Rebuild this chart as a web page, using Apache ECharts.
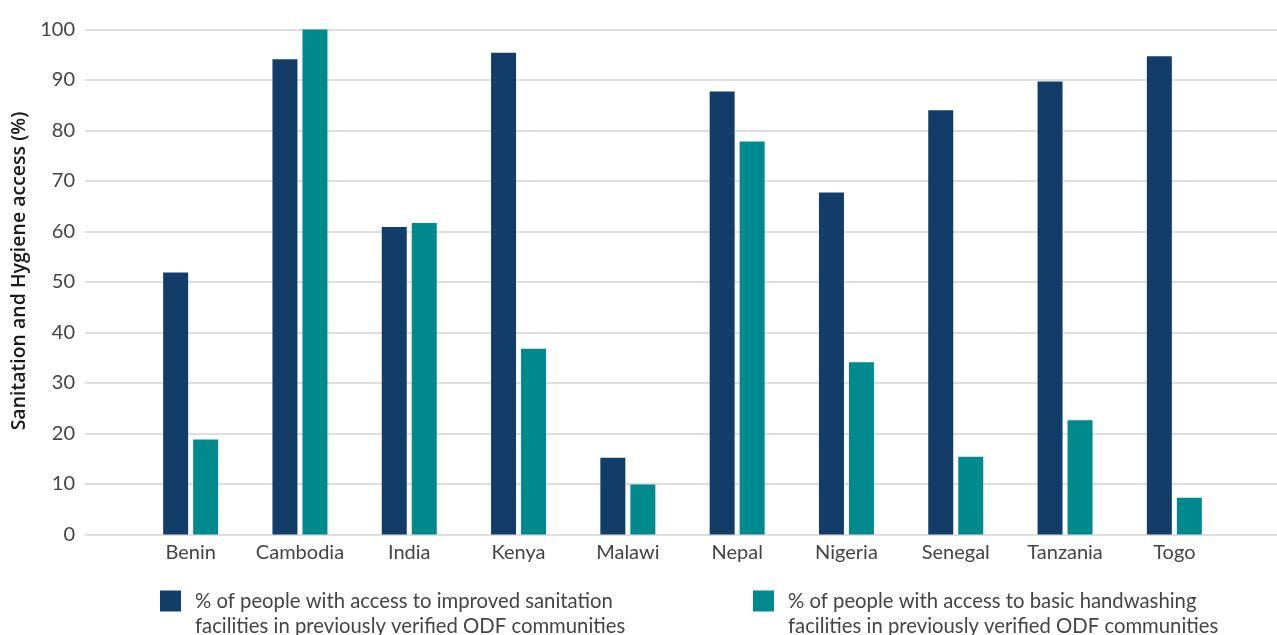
<!DOCTYPE html>
<html><head><meta charset="utf-8">
<script src="https://cdn.jsdelivr.net/npm/echarts@6/dist/echarts.min.js"></script>
<style>html,body{margin:0;padding:0;background:#fff}#c{width:1277px;height:635px}</style>
</head><body><div id="c"></div>
<script>
const categories = ['Benin','Cambodia','India','Kenya','Malawi','Nepal','Nigeria','Senegal','Tanzania','Togo'];
const sanitation = [51.9, 94.1, 60.9, 95.4, 15.2, 87.7, 67.7, 84.0, 89.7, 94.7];
const handwashing = [18.8, 100, 61.7, 36.8, 9.9, 77.8, 34.1, 15.4, 22.6, 7.3];
const yTicks = [0,10,20,30,40,50,60,70,80,90,100];
const seriesNames = [
  '% of people with access to improved sanitation\nfacilities in previously verified ODF communities',
  '% of people with access to basic handwashing\nfacilities in previously verified ODF communities'
];
const yTitle = 'Sanitation and Hygiene access (%)';

const chart = echarts.init(document.getElementById('c'));
const font = 'Lato';
const legendIcon = 'path://M0,0H21V21H0Z M0,46H0.01V46.01H0Z';
chart.setOption({
  animation: false,
  grid: [
    {left: 85, right: 0, top: 29.5, bottom: 100.5},
    {left: 136, right: 48, top: 29.5, bottom: 100.5}
  ],
  xAxis: [
    {gridIndex: 0, type: 'value', show: false, min: 0, max: 1},
    {gridIndex: 1, type: 'category', data: categories,
     axisLine: {show: false}, axisTick: {show: false},
     axisLabel: {interval: 0, fontFamily: font, fontSize: 20, color: '#444', margin: 8}}
  ],
  yAxis: [
    {gridIndex: 0, type: 'value', min: 0, max: 100, interval: 10,
     axisLine: {show: false}, axisTick: {show: false},
     axisLabel: {fontFamily: font, fontSize: 20, color: '#444', margin: 10,
       formatter: v => yTicks.includes(v) ? String(v) : ''},
     splitLine: {lineStyle: {color: '#d4d4d4', width: 1.5}},
     name: yTitle, nameLocation: 'middle', nameGap: 55, nameRotate: 90,
     nameTextStyle: {fontFamily: 'Open Sans', fontSize: 19.5, fontWeight: 600, color: '#1a1a1a', padding: [0,0,0,22]}},
    {gridIndex: 1, type: 'value', min: 0, max: 100, show: false}
  ],
  legend: [
    {data: [seriesNames[0]], left: 160, top: 588.5, padding: 0, itemWidth: 21, itemHeight: 47, icon: legendIcon,
     textStyle: {fontFamily: font, fontSize: 20.3, color: '#444', lineHeight: 25, padding: [0,0,0,9]}},
    {data: [seriesNames[1]], left: 753, top: 588.5, padding: 0, itemWidth: 21, itemHeight: 47, icon: legendIcon,
     textStyle: {fontFamily: font, fontSize: 20.3, color: '#444', lineHeight: 25, padding: [0,0,0,9]}}
  ],
  series: [
    {name: seriesNames[0], type: 'bar', xAxisIndex: 1, yAxisIndex: 1, data: sanitation,
     barWidth: 25, barGap: '20%', itemStyle: {color: '#133d69'}},
    {name: seriesNames[1], type: 'bar', xAxisIndex: 1, yAxisIndex: 1, data: handwashing,
     barWidth: 25, barGap: '20%', itemStyle: {color: '#008a8d'}}
  ]
});
</script></body></html>
